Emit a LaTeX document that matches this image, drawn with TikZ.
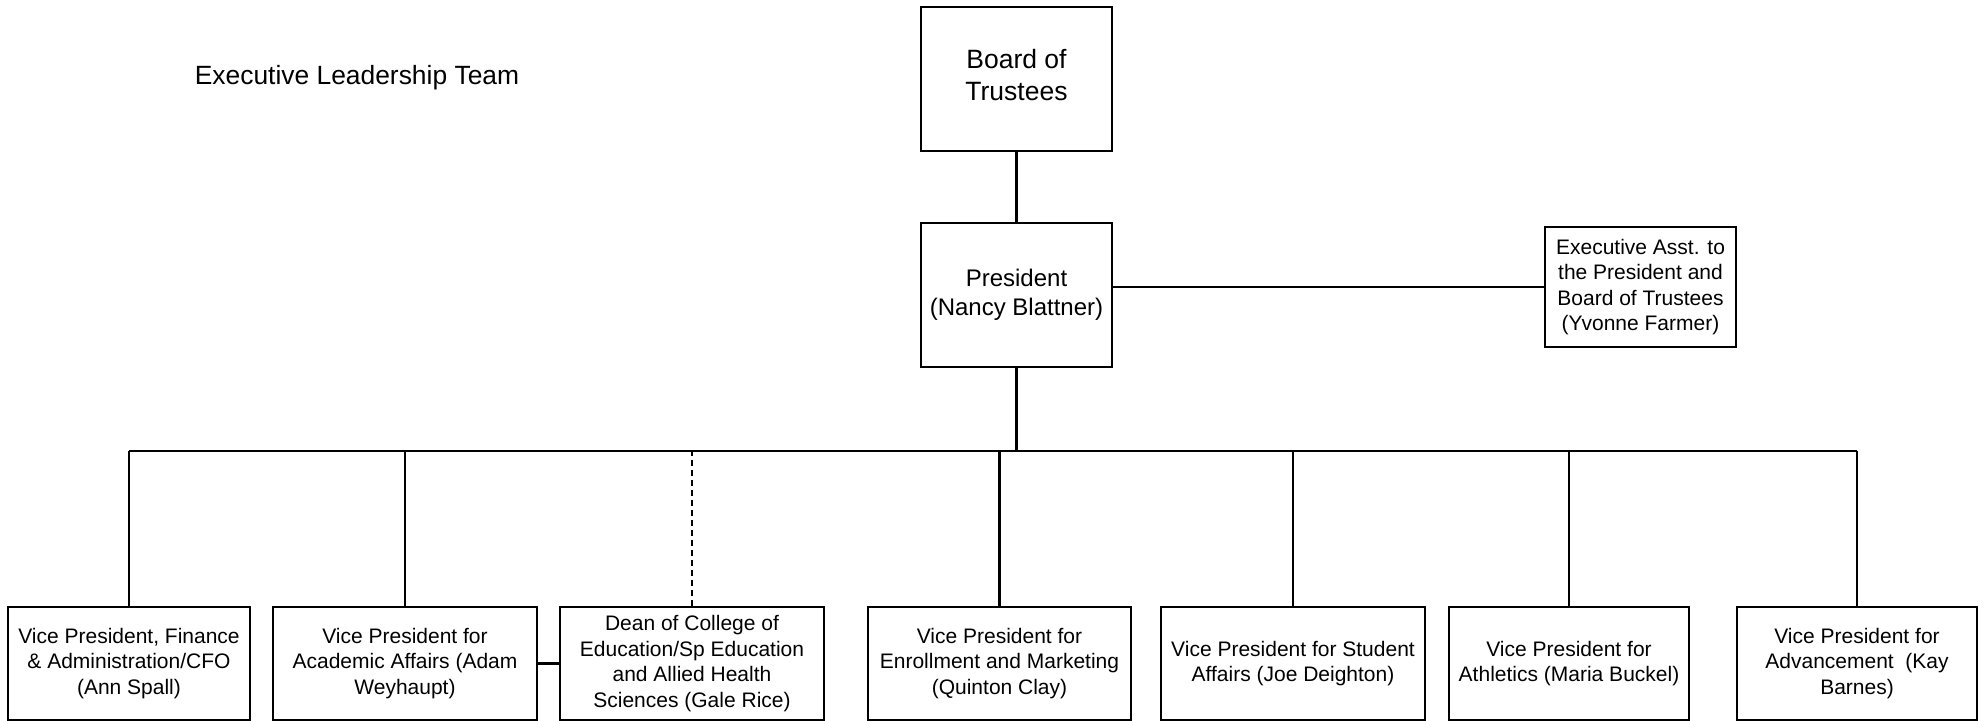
\documentclass[tikz,border=0pt]{standalone}
\usepackage{fontspec}
\setmainfont{Liberation Sans}
\begin{document}
\begin{tikzpicture}[x=0.5pt,y=-0.5pt,
  line width=1.2pt,
  box/.style={draw,line width=1.2pt,inner sep=0pt,align=center},
  small/.style={font=\fontsize{10.5pt}{12.75pt}\selectfont},
  bottombox/.style={box,small,minimum height=56.5pt},
  conn/.style={draw,line width=1.2pt},
]
\useasboundingbox (0,0) rectangle (1986,721);
\node[font=\fontsize{13.2pt}{16pt}\selectfont] (title) at (357,78) {Executive Leadership Team};

\node[box,font=\fontsize{13.25pt}{16pt}\selectfont,minimum width=95.5pt,minimum height=72pt,text depth=4pt] (board) at (1016.5,79) {Board of\\Trustees};
\node[box,font=\fontsize{12pt}{14.5pt}\selectfont,minimum width=95.5pt,minimum height=72pt] (pres) at (1016.5,295) {President\\(Nancy Blattner)};
\node[box,small,minimum width=95.5pt,minimum height=60pt] (exec) at (1640.5,287) {Executive Asst. to\\the President and\\Board of Trustees\\(Yvonne Farmer)};

\node[bottombox,minimum width=121pt] (b1) at (129,663.5) {Vice President, Finance\\\& Administration/CFO\\(Ann Spall)};
\node[bottombox,minimum width=132pt] (b2) at (405,663.5) {Vice President for\\Academic Affairs (Adam\\Weyhaupt)};
\node[bottombox,minimum width=132pt] (b3) at (692,663.5) {Dean of College of\\Education/Sp Education\\and Allied Health\\Sciences (Gale Rice)};
\node[bottombox,minimum width=131.5pt] (b4) at (999.5,663.5) {Vice President for\\Enrollment and Marketing\\(Quinton Clay)};
\node[bottombox,minimum width=132pt] (b5) at (1293,663.5) {Vice President for Student\\Affairs (Joe Deighton)};
\node[bottombox,minimum width=120pt] (b6) at (1569,663.5) {Vice President for\\Athletics (Maria Buckel)};
\node[bottombox,minimum width=120pt] (b7) at (1857,663.5) {Vice President for\\Advancement\ \ (Kay\\Barnes)};

\coordinate (bus) at (0,451);

\draw[conn] (board.south) -- (pres.north);
\draw[conn] (exec.west) -- (exec.west -| pres.east);
\draw[conn] (pres.south) -- (pres.south |- bus);
\draw[conn] (b1.north |- bus) -- (b7.north |- bus);
\foreach \b in {b1,b2,b4,b5,b6,b7}{
  \draw[conn] (\b.north) -- (\b.north |- bus);
}
\draw[conn,dash pattern=on 3pt off 2pt] (b3.north) -- (b3.north |- bus);
\draw[conn] (b2.east) -- (b3.west);
\end{tikzpicture}
\end{document}
